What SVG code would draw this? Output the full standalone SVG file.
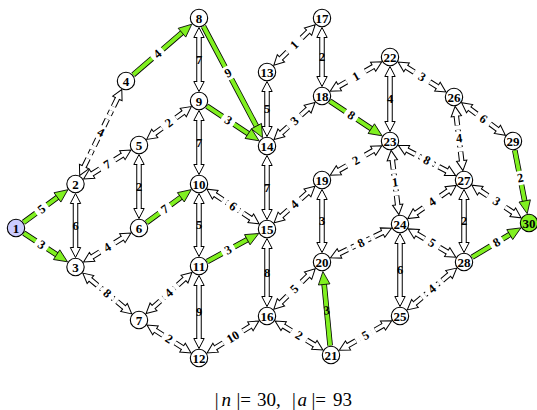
<svg xmlns="http://www.w3.org/2000/svg" xmlns:xlink="http://www.w3.org/1999/xlink" width="537" height="410" viewBox="0 0 537 410">
<style>
.nd{fill:#fff;stroke:#000;stroke-width:1.1}
.nt{font-family:"Liberation Serif",serif;font-weight:bold;font-size:13px;text-anchor:middle;dominant-baseline:central}
.el{font-family:"Liberation Serif",serif;font-weight:bold;font-size:12.5px;text-anchor:middle;dominant-baseline:central}
.bg{fill:#fff}
.ah{fill:none;stroke:none;marker-start:url(#ha);marker-end:url(#ha)}
.ga{fill:none;stroke:none;marker-end:url(#ga)}
</style>
<defs>
<marker id="ha" markerUnits="userSpaceOnUse" viewBox="-11 -7 12 14" refX="0" refY="0" markerWidth="12" markerHeight="14" orient="auto-start-reverse" overflow="visible">
<path d="M0,0 L-10,-5.2 L-10,5.2 Z" fill="#fff"/>
<path d="M-10,-1.75 L-10,-5.2 L0,0 L-10,5.2 L-10,1.75" fill="none" stroke="#000" stroke-width="1"/>
</marker>
<marker id="ga" markerUnits="userSpaceOnUse" viewBox="-15 -7 16 14" refX="0" refY="0" markerWidth="16" markerHeight="14" orient="auto" overflow="visible">
<path d="M0,0 L-13,-5.8 L-13,5.8 Z" fill="#80f020" stroke="#000" stroke-width="0.8"/>
</marker>
<g id="solidShafts" fill="none">
<path d="M75.5,200.5 L75.5,250.5"/>
<path d="M139,161.5 L139,211.5"/>
<path d="M199,34.5 L199,84.5"/>
<path d="M199,117.5 L199,167.5"/>
<path d="M199,200.5 L199,249.5"/>
<path d="M199,282.5 L199,341.5"/>
<path d="M267,88.5 L267,129.5"/>
<path d="M267,162.5 L267,212.5"/>
<path d="M267,245.5 L267,299.5"/>
<path d="M322,34.5 L322,79.5"/>
<path d="M322,196.5 L322,245.5"/>
<path d="M390,73.5 L390,124.5"/>
<path d="M400,240.5 L400,299.5"/>
<path d="M464,196.5 L464,245.5"/>
</g>
<g id="dashShafts" fill="none">
<path d="M82.8,169.2 L100.8,132.5 M118.7,95.8 L100.8,132.5"/>
<path d="M89.6,175.4 L107.3,164.5 M124.9,153.6 L107.3,164.5"/>
<path d="M89.6,258.4 L107.3,247.5 M124.9,236.6 L107.3,247.5"/>
<path d="M88.2,277.6 L107.3,293.5 M126.3,309.4 L107.3,293.5"/>
<path d="M152.3,135.2 L169,123 M185.7,110.8 L169,123"/>
<path d="M151.3,309 L169,293 M186.7,277 L169,293"/>
<path d="M152.9,328.8 L169,339 M185.1,349.2 L169,339"/>
<path d="M212.8,193.1 L233,206.5 M253.2,219.9 L233,206.5"/>
<path d="M213,349.3 L233,337 M253,324.7 L233,337"/>
<path d="M278.8,60.4 L294.5,45 M310.2,29.6 L294.5,45"/>
<path d="M279.2,134.9 L294.5,121 M309.8,107.1 L294.5,121"/>
<path d="M279.3,218 L294.5,204.5 M309.7,191 L294.5,204.5"/>
<path d="M278.8,304.4 L294.5,289 M310.2,273.6 L294.5,289"/>
<path d="M281.1,324.6 L299,335.5 M316.9,346.4 L299,335.5"/>
<path d="M336.3,87.8 L356,76.5 M375.7,65.2 L356,76.5"/>
<path d="M336.3,171.8 L356,160.5 M375.7,149.2 L356,160.5"/>
<path d="M336.8,254.8 L361,243 M385.2,231.2 L361,243"/>
<path d="M345.4,346.9 L365.5,335.5 M385.6,324.1 L365.5,335.5"/>
<path d="M404,65.7 L422,77 M440,88.3 L422,77"/>
<path d="M392,157.4 L395,182.5 M398,207.6 L395,182.5"/>
<path d="M404.6,148.7 L427,160.5 M449.4,172.3 L427,160.5"/>
<path d="M413.6,214.7 L432,202 M450.4,189.3 L432,202"/>
<path d="M414.2,232.4 L432,243 M449.8,253.6 L432,243"/>
<path d="M412.6,305.4 L432,289 M451.4,272.6 L432,289"/>
<path d="M456,113.4 L459,138.5 M462,163.6 L459,138.5"/>
<path d="M467.2,106.9 L483.5,119 M499.8,131.1 L483.5,119"/>
<path d="M477.8,189.1 L496.5,201.5 M515.2,213.9 L496.5,201.5"/>
</g>
<g id="greenShafts" fill="none">
<path d="M23.6,222.3 L60.6,195"/>
<path d="M23.9,233.2 L60,256.9"/>
<path d="M133.2,74.8 L185,30.1"/>
<path d="M146.7,222.4 L184.1,194.9"/>
<path d="M203.5,26.4 L258.3,129.7"/>
<path d="M206.9,106.2 L251.6,135.8"/>
<path d="M207.3,261.5 L250.8,237.8"/>
<path d="M329.9,101.2 L374.6,130.8"/>
<path d="M330.1,345.5 L323.8,280.4"/>
<path d="M472.2,257.1 L513.1,232.5"/>
<path d="M514.8,150.3 L525.4,204.8"/>
</g>
</defs>
<rect width="537" height="410" fill="#fff"/>
<g id="connectors">
<use xlink:href="#solidShafts" href="#solidShafts" stroke="#000" stroke-width="5.5"/>
<use xlink:href="#solidShafts" href="#solidShafts" stroke="#fff" stroke-width="3.5"/>
<use xlink:href="#dashShafts" href="#dashShafts" stroke="#000" stroke-width="5.5" stroke-dasharray="12 4.5 5 4.5"/>
<use xlink:href="#dashShafts" href="#dashShafts" stroke="#fff" stroke-width="3.5" stroke-dasharray="12 4.5 5 4.5"/>
<g id="arrowheads">
<path class="ah" d="M75.5,193.5 L75.5,257.5"/>
<path class="ah" d="M79.7,175.5 L121.8,89.5"/>
<path class="ah" d="M83.6,179 L130.9,150"/>
<path class="ah" d="M83.6,262 L130.9,233"/>
<path class="ah" d="M82.8,273.1 L131.7,313.9"/>
<path class="ah" d="M139,154.5 L139,218.5"/>
<path class="ah" d="M146.7,139.4 L191.3,106.6"/>
<path class="ah" d="M146.1,313.6 L191.9,272.4"/>
<path class="ah" d="M147,325.1 L191,352.9"/>
<path class="ah" d="M199,27.5 L199,91.5"/>
<path class="ah" d="M199,110.5 L199,174.5"/>
<path class="ah" d="M199,193.5 L199,256.5"/>
<path class="ah" d="M199,275.5 L199,348.5"/>
<path class="ah" d="M206.9,189.2 L259.1,223.8"/>
<path class="ah" d="M207.1,353 L258.9,321"/>
<path class="ah" d="M267,81.5 L267,136.5"/>
<path class="ah" d="M273.8,65.3 L315.2,24.7"/>
<path class="ah" d="M267,155.5 L267,219.5"/>
<path class="ah" d="M274,139.6 L315,102.4"/>
<path class="ah" d="M267,238.5 L267,306.5"/>
<path class="ah" d="M274.1,222.7 L314.9,186.3"/>
<path class="ah" d="M273.8,309.3 L315.2,268.7"/>
<path class="ah" d="M275.1,321 L322.9,350"/>
<path class="ah" d="M322,27.5 L322,86.5"/>
<path class="ah" d="M330.2,91.3 L381.8,61.7"/>
<path class="ah" d="M322,189.5 L322,252.5"/>
<path class="ah" d="M330.2,175.3 L381.8,145.7"/>
<path class="ah" d="M330.5,257.8 L391.5,228.2"/>
<path class="ah" d="M339.3,350.3 L391.7,320.7"/>
<path class="ah" d="M390,66.5 L390,131.5"/>
<path class="ah" d="M398.1,62 L445.9,92"/>
<path class="ah" d="M391.1,150.4 L398.9,214.6"/>
<path class="ah" d="M398.4,145.4 L455.6,175.6"/>
<path class="ah" d="M400,233.5 L400,306.5"/>
<path class="ah" d="M407.8,218.6 L456.2,185.4"/>
<path class="ah" d="M408.2,228.9 L455.8,257.2"/>
<path class="ah" d="M407.3,309.9 L456.7,268.1"/>
<path class="ah" d="M455.1,106.4 L462.9,170.6"/>
<path class="ah" d="M461.6,102.7 L505.4,135.3"/>
<path class="ah" d="M464,189.5 L464,252.5"/>
<path class="ah" d="M471.9,185.2 L521.1,217.8"/>
</g>
<use xlink:href="#greenShafts" href="#greenShafts" stroke="#000" stroke-width="5.6"/>
<use xlink:href="#greenShafts" href="#greenShafts" stroke="#80f020" stroke-width="4"/>
<g id="greenheads">
<path class="ga" d="M23.6,222.3 L67.9,189.7"/>
<path class="ga" d="M23.9,233.2 L67.5,261.8"/>
<path class="ga" d="M133.2,74.8 L191.8,24.2"/>
<path class="ga" d="M146.7,222.4 L191.3,189.6"/>
<path class="ga" d="M203.5,26.4 L262.5,137.6"/>
<path class="ga" d="M206.9,106.2 L259.1,140.8"/>
<path class="ga" d="M207.3,261.5 L258.7,233.5"/>
<path class="ga" d="M329.9,101.2 L382.1,135.8"/>
<path class="ga" d="M330.1,345.5 L322.9,271.5"/>
<path class="ga" d="M472.2,257.1 L520.9,227.9"/>
<path class="ga" d="M514.8,150.3 L527.2,213.7"/>
</g>
<g id="labelgaps">
<rect class="bg" x="-7" y="-4.5" width="14" height="9" transform="translate(100.8,132.5) rotate(-63.9)"/>
<rect class="bg" x="-7" y="-4.5" width="14" height="9" transform="translate(107.3,164.5) rotate(-31.6)"/>
<rect class="bg" x="-7" y="-4.5" width="14" height="9" transform="translate(107.3,247.5) rotate(-31.6)"/>
<rect class="bg" x="-7" y="-4.5" width="14" height="9" transform="translate(107.3,293.5) rotate(39.9)"/>
<rect class="bg" x="-7" y="-4.5" width="14" height="9" transform="translate(169,123) rotate(-36.3)"/>
<rect class="bg" x="-7" y="-4.5" width="14" height="9" transform="translate(169,293) rotate(-42)"/>
<rect class="bg" x="-7" y="-4.5" width="14" height="9" transform="translate(169,339) rotate(32.3)"/>
<rect class="bg" x="-7" y="-4.5" width="14" height="9" transform="translate(233,206.5) rotate(33.5)"/>
<rect class="bg" x="-9" y="-4.5" width="18" height="9" transform="translate(233,337) rotate(-31.7)"/>
<rect class="bg" x="-7" y="-4.5" width="14" height="9" transform="translate(294.5,45) rotate(-44.5)"/>
<rect class="bg" x="-7" y="-4.5" width="14" height="9" transform="translate(294.5,121) rotate(-42.3)"/>
<rect class="bg" x="-7" y="-4.5" width="14" height="9" transform="translate(294.5,204.5) rotate(-41.7)"/>
<rect class="bg" x="-7" y="-4.5" width="14" height="9" transform="translate(294.5,289) rotate(-44.5)"/>
<rect class="bg" x="-7" y="-4.5" width="14" height="9" transform="translate(299,335.5) rotate(31.4)"/>
<rect class="bg" x="-7" y="-4.5" width="14" height="9" transform="translate(356,76.5) rotate(-29.8)"/>
<rect class="bg" x="-7" y="-4.5" width="14" height="9" transform="translate(356,160.5) rotate(-29.8)"/>
<rect class="bg" x="-7" y="-4.5" width="14" height="9" transform="translate(361,243) rotate(-26)"/>
<rect class="bg" x="-7" y="-4.5" width="14" height="9" transform="translate(365.5,335.5) rotate(-29.5)"/>
<rect class="bg" x="-7" y="-4.5" width="14" height="9" transform="translate(422,77) rotate(32)"/>
<rect class="bg" x="-7" y="-4.5" width="14" height="9" transform="translate(395,182.5) rotate(83.1)"/>
<rect class="bg" x="-7" y="-4.5" width="14" height="9" transform="translate(427,160.5) rotate(27.8)"/>
<rect class="bg" x="-7" y="-4.5" width="14" height="9" transform="translate(432,202) rotate(-34.5)"/>
<rect class="bg" x="-7" y="-4.5" width="14" height="9" transform="translate(432,243) rotate(30.7)"/>
<rect class="bg" x="-7" y="-4.5" width="14" height="9" transform="translate(432,289) rotate(-40.2)"/>
<rect class="bg" x="-7" y="-4.5" width="14" height="9" transform="translate(459,138.5) rotate(83.1)"/>
<rect class="bg" x="-7" y="-4.5" width="14" height="9" transform="translate(483.5,119) rotate(36.7)"/>
<rect class="bg" x="-7" y="-4.5" width="14" height="9" transform="translate(496.5,201.5) rotate(33.5)"/>
<rect class="bg" x="-7" y="-4.5" width="14" height="9" transform="translate(41.6,209.1) rotate(-36.5)"/>
<rect class="bg" x="-7" y="-4.5" width="14" height="9" transform="translate(41.6,244.8) rotate(33.2)"/>
<rect class="bg" x="-7" y="-4.5" width="14" height="9" transform="translate(157.4,53.9) rotate(-40.8)"/>
<rect class="bg" x="-7" y="-4.5" width="14" height="9" transform="translate(164.8,209.1) rotate(-36.3)"/>
<rect class="bg" x="-7" y="-4.5" width="14" height="9" transform="translate(228.2,73) rotate(62)"/>
<rect class="bg" x="-7" y="-4.5" width="14" height="9" transform="translate(228.2,120.4) rotate(33.5)"/>
<rect class="bg" x="-7" y="-4.5" width="14" height="9" transform="translate(228.2,250.1) rotate(-28.6)"/>
<rect class="bg" x="-7" y="-4.5" width="14" height="9" transform="translate(351.2,115.4) rotate(33.5)"/>
<rect class="bg" x="-7" y="-4.5" width="14" height="9" transform="translate(496.5,242.5) rotate(-31)"/>
<rect class="bg" x="-7" y="-4.5" width="14" height="9" transform="translate(520.2,177.9) rotate(79)"/>
</g>
<g id="edgelabels" class="el">
<text x="75.5" y="225.5">6</text>
<text x="100.8" y="132.5" transform="rotate(26.1,100.8,132.5)">4</text>
<text x="107.3" y="164.5" transform="rotate(-31.6,107.3,164.5)">7</text>
<text x="107.3" y="247.5" transform="rotate(-31.6,107.3,247.5)">4</text>
<text x="107.3" y="293.5" transform="rotate(39.9,107.3,293.5)">8</text>
<text x="139" y="186.5">2</text>
<text x="169" y="123" transform="rotate(-36.3,169,123)">2</text>
<text x="169" y="293" transform="rotate(-42,169,293)">4</text>
<text x="169" y="339" transform="rotate(32.3,169,339)">2</text>
<text x="199" y="59.5">7</text>
<text x="199" y="142.5">7</text>
<text x="199" y="225">5</text>
<text x="199" y="312">9</text>
<text x="233" y="206.5" transform="rotate(33.5,233,206.5)">6</text>
<text x="233" y="337" transform="rotate(-31.7,233,337)">10</text>
<text x="267" y="109">5</text>
<text x="294.5" y="45" transform="rotate(-44.5,294.5,45)">1</text>
<text x="267" y="187.5">7</text>
<text x="294.5" y="121" transform="rotate(-42.3,294.5,121)">3</text>
<text x="267" y="272.5">8</text>
<text x="294.5" y="204.5" transform="rotate(-41.7,294.5,204.5)">4</text>
<text x="294.5" y="289" transform="rotate(-44.5,294.5,289)">5</text>
<text x="299" y="335.5" transform="rotate(31.4,299,335.5)">2</text>
<text x="322" y="57">2</text>
<text x="356" y="76.5" transform="rotate(-29.8,356,76.5)">1</text>
<text x="322" y="221">3</text>
<text x="356" y="160.5" transform="rotate(-29.8,356,160.5)">2</text>
<text x="361" y="243" transform="rotate(-26,361,243)">8</text>
<text x="365.5" y="335.5" transform="rotate(-29.5,365.5,335.5)">5</text>
<text x="390" y="99">4</text>
<text x="422" y="77" transform="rotate(32,422,77)">3</text>
<text x="395" y="182.5" transform="rotate(-6.9,395,182.5)">1</text>
<text x="427" y="160.5" transform="rotate(27.8,427,160.5)">8</text>
<text x="400" y="270">6</text>
<text x="432" y="202" transform="rotate(-34.5,432,202)">4</text>
<text x="432" y="243" transform="rotate(30.7,432,243)">5</text>
<text x="432" y="289" transform="rotate(-40.2,432,289)">4</text>
<text x="459" y="138.5" transform="rotate(-6.9,459,138.5)">4</text>
<text x="483.5" y="119" transform="rotate(36.7,483.5,119)">6</text>
<text x="464" y="221">2</text>
<text x="496.5" y="201.5" transform="rotate(33.5,496.5,201.5)">3</text>
<text x="41.6" y="209.1" transform="rotate(-36.5,41.6,209.1)">5</text>
<text x="41.6" y="244.8" transform="rotate(33.2,41.6,244.8)">3</text>
<text x="157.4" y="53.9" transform="rotate(-40.8,157.4,53.9)">4</text>
<text x="164.8" y="209.1" transform="rotate(-36.3,164.8,209.1)">7</text>
<text x="228.2" y="73" transform="rotate(-28,228.2,73)">9</text>
<text x="228.2" y="120.4" transform="rotate(33.5,228.2,120.4)">3</text>
<text x="228.2" y="250.1" transform="rotate(-28.6,228.2,250.1)">3</text>
<text x="351.2" y="115.4" transform="rotate(33.5,351.2,115.4)">8</text>
<text x="326.7" y="310.4" transform="rotate(-5.5,326.7,310.4)">3</text>
<text x="496.5" y="242.5" transform="rotate(-31,496.5,242.5)">8</text>
<text x="520.2" y="177.9" transform="rotate(-11,520.2,177.9)">2</text>
</g>
</g>
<g id="n1"><circle class="nd" cx="16" cy="228" r="8.7" style="fill:#ccccff"/><text class="nt" x="16" y="228">1</text></g>
<g id="n2"><circle class="nd" cx="75.5" cy="184" r="8.7"/><text class="nt" x="75.5" y="184">2</text></g>
<g id="n3"><circle class="nd" cx="75.5" cy="267" r="8.7"/><text class="nt" x="75.5" y="267">3</text></g>
<g id="n4"><circle class="nd" cx="126" cy="81" r="8.7"/><text class="nt" x="126" y="81">4</text></g>
<g id="n5"><circle class="nd" cx="139" cy="145" r="8.7"/><text class="nt" x="139" y="145">5</text></g>
<g id="n6"><circle class="nd" cx="139" cy="228" r="8.7"/><text class="nt" x="139" y="228">6</text></g>
<g id="n7"><circle class="nd" cx="139" cy="320" r="8.7"/><text class="nt" x="139" y="320">7</text></g>
<g id="n8"><circle class="nd" cx="199" cy="18" r="8.7"/><text class="nt" x="199" y="18">8</text></g>
<g id="n9"><circle class="nd" cx="199" cy="101" r="8.7"/><text class="nt" x="199" y="101">9</text></g>
<g id="n10"><circle class="nd" cx="199" cy="184" r="8.7"/><text class="nt" x="199" y="184">10</text></g>
<g id="n11"><circle class="nd" cx="199" cy="266" r="8.7"/><text class="nt" x="199" y="266">11</text></g>
<g id="n12"><circle class="nd" cx="199" cy="358" r="8.7"/><text class="nt" x="199" y="358">12</text></g>
<g id="n13"><circle class="nd" cx="267" cy="72" r="8.7"/><text class="nt" x="267" y="72">13</text></g>
<g id="n14"><circle class="nd" cx="267" cy="146" r="8.7"/><text class="nt" x="267" y="146">14</text></g>
<g id="n15"><circle class="nd" cx="267" cy="229" r="8.7"/><text class="nt" x="267" y="229">15</text></g>
<g id="n16"><circle class="nd" cx="267" cy="316" r="8.7"/><text class="nt" x="267" y="316">16</text></g>
<g id="n17"><circle class="nd" cx="322" cy="18" r="8.7"/><text class="nt" x="322" y="18">17</text></g>
<g id="n18"><circle class="nd" cx="322" cy="96" r="8.7"/><text class="nt" x="322" y="96">18</text></g>
<g id="n19"><circle class="nd" cx="322" cy="180" r="8.7"/><text class="nt" x="322" y="180">19</text></g>
<g id="n20"><circle class="nd" cx="322" cy="262" r="8.7"/><text class="nt" x="322" y="262">20</text></g>
<g id="n21"><circle class="nd" cx="331" cy="355" r="8.7"/><text class="nt" x="331" y="355">21</text></g>
<g id="n22"><circle class="nd" cx="390" cy="57" r="8.7"/><text class="nt" x="390" y="57">22</text></g>
<g id="n23"><circle class="nd" cx="390" cy="141" r="8.7"/><text class="nt" x="390" y="141">23</text></g>
<g id="n24"><circle class="nd" cx="400" cy="224" r="8.7"/><text class="nt" x="400" y="224">24</text></g>
<g id="n25"><circle class="nd" cx="400" cy="316" r="8.7"/><text class="nt" x="400" y="316">25</text></g>
<g id="n26"><circle class="nd" cx="454" cy="97" r="8.7"/><text class="nt" x="454" y="97">26</text></g>
<g id="n27"><circle class="nd" cx="464" cy="180" r="8.7"/><text class="nt" x="464" y="180">27</text></g>
<g id="n28"><circle class="nd" cx="464" cy="262" r="8.7"/><text class="nt" x="464" y="262">28</text></g>
<g id="n29"><circle class="nd" cx="513" cy="141" r="8.7"/><text class="nt" x="513" y="141">29</text></g>
<g id="n30"><circle class="nd" cx="529" cy="223" r="8.7" style="fill:#80f020"/><text class="nt" x="529" y="223">30</text></g>
<g id="caption" font-family="'Liberation Serif',serif" font-size="19">
<text y="405.5"><tspan x="214.8">|</tspan><tspan x="221.5" font-style="italic">n</tspan><tspan x="236.4">|=</tspan><tspan x="257">30,</tspan><tspan x="292.1">|</tspan><tspan x="297.5" font-style="italic">a</tspan><tspan x="311.4">|=</tspan><tspan x="333">93</tspan></text>
</g>
</svg>
